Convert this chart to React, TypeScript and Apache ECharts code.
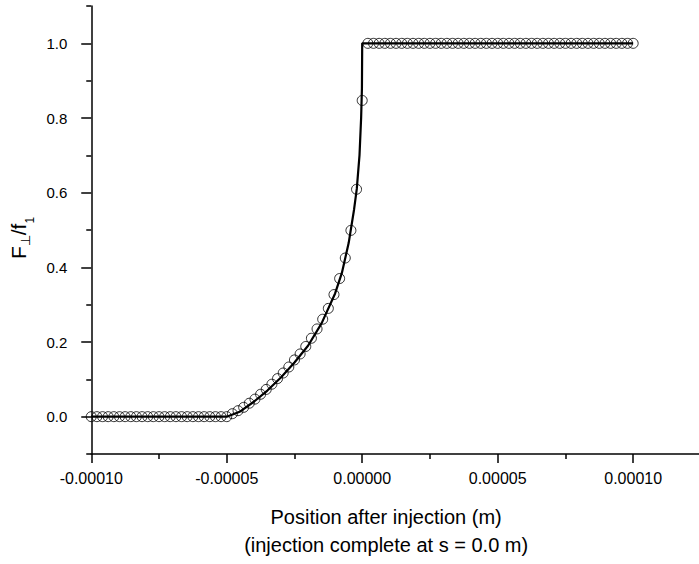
import React, { useEffect, useRef } from "react";
import * as echarts from "echarts";

// Sampling of the measured points (circles)
const X_START = -0.0001;
const X_STEP = 0.00005 / 24;

// circles: flat part before -0.00005
const lowerValues = [
  0, 0, 0, 0, 0, 0, 0, 0, 0, 0, 0, 0, 0, 0, 0, 0, 0, 0, 0, 0, 0, 0, 0, 0, 0,
];
// circles: rising part (-0.0000479 .. 0.0)
const riseValues = [
  0.008, 0.016, 0.025, 0.036, 0.047, 0.06, 0.073, 0.087, 0.102, 0.117, 0.133,
  0.152, 0.168, 0.188, 0.21, 0.235, 0.261, 0.29, 0.327, 0.37, 0.425, 0.499,
  0.609, 0.847,
];
// circles: flat part after 0.0
const upperValues = [
  1, 1, 1, 1, 1, 1, 1, 1, 1, 1, 1, 1, 1, 1, 1, 1, 1, 1, 1, 1, 1, 1, 1, 1, 1,
  1, 1, 1, 1, 1, 1, 1, 1, 1, 1, 1, 1, 1, 1, 1, 1, 1, 1, 1, 1, 1, 1, 1,
];

// solid theoretical curve
const lineX = [
  -0.0001, -0.00005, -0.000045, -0.00004, -0.000035, -0.00003, -0.000025,
  -0.00002, -0.000015, -0.00001, -0.0000075, -0.000005, -0.000003, -0.000002,
  -0.000001, -0.0000004, -0.0000001, 0, 0.0001,
];
const lineY = [
  0, 0, 0.014, 0.04, 0.07, 0.105, 0.145, 0.19, 0.25, 0.33, 0.385, 0.465, 0.555,
  0.61, 0.7, 0.8, 0.88, 1.0, 1.0,
];

const xMajorTicks = [-0.0001, -0.00005, 0, 0.00005, 0.0001];
const xMinorTicks = [-0.000075, -0.000025, 0.000025, 0.000075];
const yMajorTicks = [0, 0.2, 0.4, 0.6, 0.8, 1.0];
const yMinorTicks = [-0.1, 0.1, 0.3, 0.5, 0.7, 0.9, 1.1];

const FONT = "Liberation Sans, Arial, sans-serif";

export default function App() {
  const ref = useRef<HTMLDivElement>(null);
  useEffect(() => {
    if (!ref.current) return;
    const chart = echarts.init(ref.current, null, { renderer: "svg" });
    const allY = [...lowerValues, ...riseValues, ...upperValues];
    const scatterData = allY.map((v, i) => [X_START + i * X_STEP, v]);
    const lineData = lineX.map((x, i) => [x, lineY[i]]);
    const axisLineStyle = { color: "#000", width: 1.5 };
    chart.setOption({
      animation: false,
      backgroundColor: "#fff",
      grid: { left: 89, right: 0, top: 6, bottom: 99, containLabel: false },
      xAxis: [
        {
          type: "value",
          position: "bottom",
          min: -0.0001,
          max: 0.0001243,
          interval: 0.00005,
          splitLine: { show: false },
          axisLine: { show: true, onZero: false, lineStyle: axisLineStyle },
          axisTick: {
            show: true,
            length: 9,
            lineStyle: axisLineStyle,
            customValues: xMajorTicks,
          },
          axisLabel: {
            customValues: xMajorTicks,
            formatter: (v: number) => v.toFixed(5),
            color: "#000",
            fontFamily: FONT,
            fontSize: 16,
            margin: 16,
          },
          name: "Position after injection (m)\n(injection complete at s = 0.0 m)",
          nameLocation: "middle",
          nameGap: 49,
          nameTextStyle: {
            color: "#000",
            fontFamily: FONT,
            fontSize: 20,
            lineHeight: 28,
            padding: [0, 18, 0, 0],
          },
        },
        {
          type: "value",
          position: "bottom",
          min: -0.0001,
          max: 0.0001243,
          interval: 0.00005,
          splitLine: { show: false },
          axisLine: { show: false, onZero: false },
          axisTick: {
            show: true,
            length: 5,
            lineStyle: axisLineStyle,
            customValues: xMinorTicks,
          },
          axisLabel: { show: false },
        },
      ],
      yAxis: [
        {
          type: "value",
          min: -0.1,
          max: 1.1,
          interval: 0.1,
          splitLine: { show: false },
          axisLine: { show: true, onZero: false, lineStyle: axisLineStyle },
          axisTick: {
            show: true,
            length: 10,
            lineStyle: axisLineStyle,
            customValues: yMajorTicks,
          },
          axisLabel: {
            customValues: yMajorTicks,
            formatter: (v: number) => v.toFixed(1),
            color: "#000",
            fontFamily: FONT,
            fontSize: 15,
            margin: 24,
          },
          name: "{a|F}{b|⊥}{a|/f}{s|1}",
          nameLocation: "middle",
          nameGap: 45,
          nameTextStyle: {
            color: "#000",
            fontFamily: FONT,
            fontSize: 21,
            padding: [0, 16, 0, 0],
            rich: {
              a: { fontFamily: FONT, fontSize: 21, color: "#000", lineHeight: 26, verticalAlign: "middle" },
              b: { fontFamily: FONT, fontSize: 13, color: "#000", lineHeight: 26, verticalAlign: "bottom" },
              s: { fontFamily: FONT, fontSize: 12, color: "#000", lineHeight: 26, verticalAlign: "bottom", padding: [0, 0, -4, 0] },
            },
          },
        },
        {
          type: "value",
          position: "left",
          min: -0.1,
          max: 1.1,
          interval: 0.1,
          splitLine: { show: false },
          axisLine: { show: false, onZero: false },
          axisTick: {
            show: true,
            length: 5,
            lineStyle: axisLineStyle,
            customValues: yMinorTicks,
          },
          axisLabel: { show: false },
        },
      ],
      series: [
        {
          type: "line",
          data: lineData,
          showSymbol: false,
          symbol: "none",
          lineStyle: { color: "#000", width: 2.2 },
          z: 2,
        },
        {
          type: "scatter",
          data: scatterData,
          symbol: "circle",
          symbolSize: 10,
          itemStyle: { color: "transparent", borderColor: "#000", borderWidth: 1 },
          z: 3,
        },
      ],
    });
    return () => chart.dispose();
  }, []);
  return (
    <div
      ref={ref}
      style={{ position: "absolute", left: 0, top: 0, width: 699, height: 564, background: "#fff" }}
    />
  );
}
